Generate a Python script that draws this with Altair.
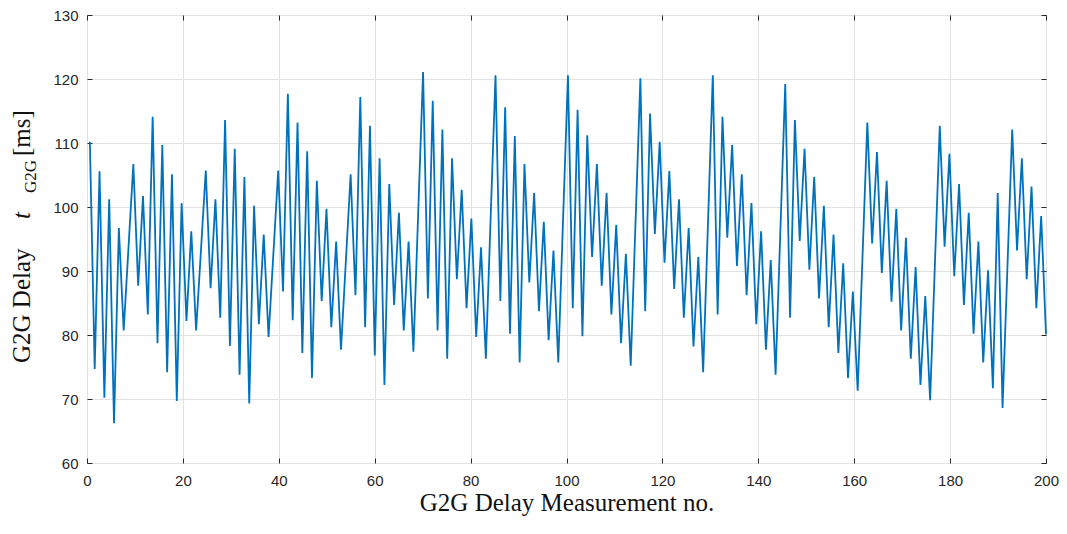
import altair as alt
import numpy as np
import pandas as pd

delay_ms = [
    110.2, 74.7, 105.6, 70.2, 101.2, 66.2, 96.7, 80.7, 93.7, 106.7,
    87.7, 101.7, 83.2, 114.1, 78.7, 109.7, 74.2, 105.1, 69.7, 100.6,
    82.2, 96.2, 80.7, 93.2, 105.7, 87.3, 101.2, 82.7, 113.6, 78.3,
    109.1, 73.8, 104.7, 69.3, 100.2, 81.7, 95.7, 79.7, 92.7, 105.7,
    86.8, 117.7, 82.3, 113.2, 77.2, 108.7, 73.3, 104.1, 85.3, 99.7,
    81.2, 94.6, 77.7, 91.4, 105.1, 86.2, 117.2, 81.2, 112.7, 76.8,
    107.6, 72.2, 103.6, 84.7, 99.1, 80.7, 94.6, 77.4, 99.3, 121.1,
    85.7, 116.6, 80.7, 112.1, 76.3, 107.6, 88.7, 102.7, 84.2, 98.2,
    79.7, 93.7, 76.3, 98.5, 120.6, 85.3, 115.6, 80.2, 111.1, 75.7,
    106.7, 88.2, 102.2, 83.7, 97.7, 79.2, 93.2, 75.7, 98.2, 120.6,
    84.2, 115.2, 79.8, 111.2, 92.2, 106.7, 87.7, 102.2, 83.2, 97.2,
    78.7, 92.7, 75.2, 97.7, 120.1, 83.7, 114.6, 95.8, 110.2, 91.3,
    105.6, 87.2, 101.2, 82.7, 96.7, 78.2, 92.2, 74.2, 97.4, 120.6,
    83.2, 114.1, 95.2, 109.7, 90.8, 105.1, 86.2, 100.6, 81.7, 96.2,
    77.7, 91.7, 73.8, 96.5, 119.2, 82.7, 113.6, 94.7, 109.1, 90.2,
    104.7, 85.7, 100.2, 81.2, 95.7, 77.2, 91.2, 73.3, 86.8, 71.3,
    92.2, 113.2, 94.3, 108.6, 89.7, 104.1, 85.2, 99.7, 80.7, 95.2,
    76.3, 90.6, 72.2, 86.1, 69.8, 91.2, 112.7, 93.8, 108.3, 89.2,
    103.6, 84.7, 99.1, 80.2, 94.6, 75.7, 90.1, 71.7, 102.2, 68.6,
    90.3, 112.1, 93.2, 107.6, 88.7, 103.2, 84.2, 98.6, 80.1,
]
# measurement positions on the x axis (evenly spaced samples)
x_first, x_last = 0.6, 200.0
measurement_no = np.linspace(x_first, x_last, len(delay_ms)).round(3).tolist()

x_ticks = [0, 20, 40, 60, 80, 100, 120, 140, 160, 180, 200]
y_ticks = [60, 70, 80, 90, 100, 110, 120, 130]

df = pd.DataFrame({"x": measurement_no, "y": delay_ms})

xs = alt.Scale(domain=[0, 200], nice=False, zero=False)
ys = alt.Scale(domain=[60, 130], nice=False, zero=False)

FRAME = "#262626"
SERIF = "Liberation Serif"
SANS = "Liberation Sans"
W, H = 959, 448

main = alt.Chart(df).mark_line(color="#0072BD", strokeWidth=1.8).encode(
    x=alt.X("x:Q", scale=xs, axis=alt.Axis(
        orient="bottom", values=x_ticks, grid=True, ticks=False, tickSize=0,
        domain=False, labelPadding=10, labelFont=SANS, labelFontSize=15,
        labelFlush=False, labelColor=FRAME, gridColor="#e2e2e2", gridWidth=1,
        title="G2G Delay Measurement no.", titleFont=SERIF, titleFontSize=25,
        titleFontWeight="normal", titleColor="#111111",
        titleBaseline="alphabetic", titleY=47, titleX=W / 2)),
    y=alt.Y("y:Q", scale=ys, axis=alt.Axis(
        orient="left", values=y_ticks, grid=True, ticks=False, tickSize=0,
        domain=False, labelPadding=9, labelFont=SANS, labelFontSize=15,
        labelFlush=False, labelColor=FRAME, gridColor="#e2e2e2", gridWidth=1,
        title=None)),
)

def tick_axis(orient, vals):
    return alt.Axis(orient=orient, values=vals, offset=-5, tickSize=5,
                    tickColor=FRAME, tickWidth=1, labels=False, domain=False,
                    grid=False, title=None)

ticks_lb = alt.Chart(df).mark_line(opacity=0).encode(
    x=alt.X("x:Q", scale=xs, axis=tick_axis("bottom", x_ticks)),
    y=alt.Y("y:Q", scale=ys, axis=tick_axis("left", y_ticks)),
)
ticks_tr = alt.Chart(df).mark_line(opacity=0).encode(
    x=alt.X("x:Q", scale=xs, axis=tick_axis("top", x_ticks)),
    y=alt.Y("y:Q", scale=ys, axis=tick_axis("right", y_ticks)),
)

one = alt.Data(values=[{}])
def ytitle_piece(text, y, x, size, style="normal"):
    return alt.Chart(one).mark_text(
        text=text, angle=270, align="left", baseline="alphabetic",
        font=SERIF, fontSize=size, fontStyle=style, color="#111111",
    ).encode(x=alt.value(x), y=alt.value(y))

# y title: "G2G Delay  t_G2G  [ms]" built from pieces (italic t, subscript)
t1 = ytitle_piece("G2G Delay", 348, -57, 25)
t2 = ytitle_piece("t", 204, -57, 25, "italic")
t3 = ytitle_piece("G2G", 178, -51, 17)
t4 = ytitle_piece("[ms]", 141, -57, 25)

chart = alt.layer(main, ticks_lb, ticks_tr, t1, t2, t3, t4).resolve_axis(
    x="independent", y="independent"
).properties(
    width=W, height=H,
    autosize=alt.AutoSizeParams(type="none"),
    padding={"left": 79, "top": 7, "right": 13, "bottom": 60},
).configure_view(stroke=FRAME, strokeWidth=1)

chart.save("out.html", embed_options={"renderer": "svg", "actions": False})
